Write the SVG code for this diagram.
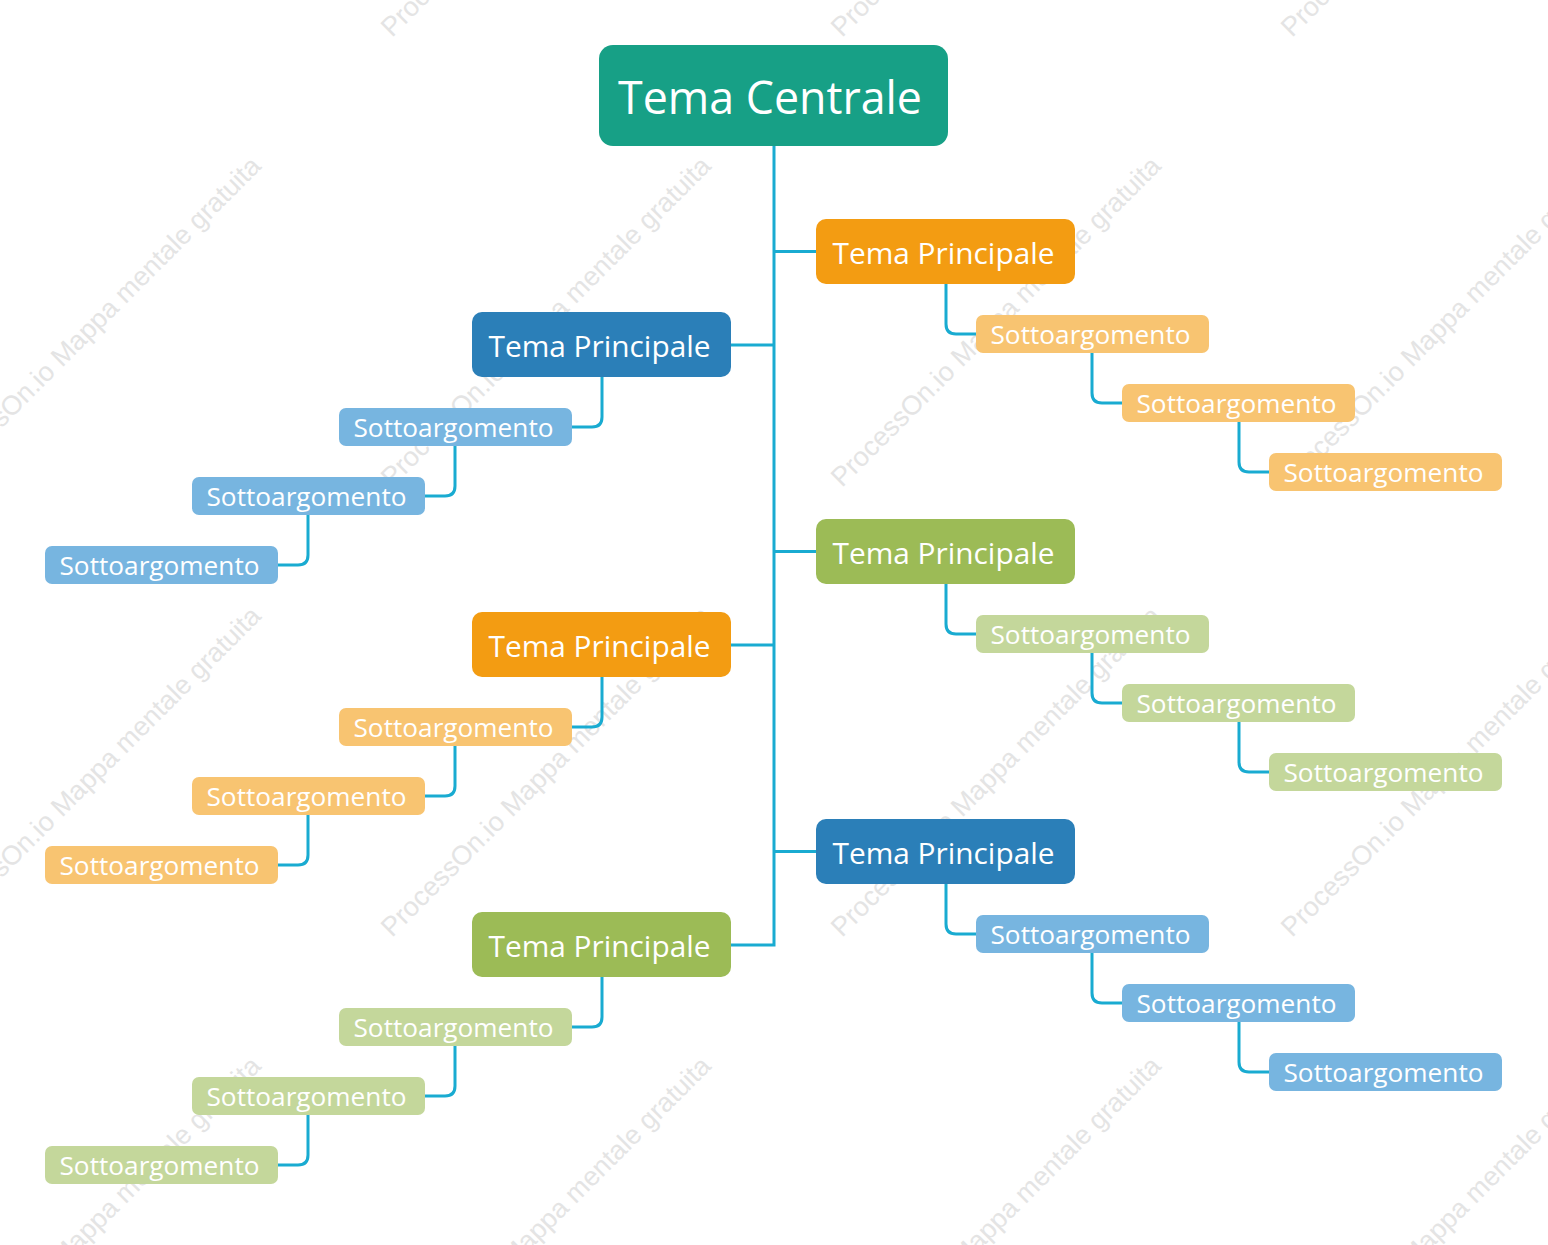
<svg xmlns="http://www.w3.org/2000/svg" width="1548" height="1245" viewBox="0 0 1548 1245">
<style>
.wm{font-family:"Liberation Sans",Arial,sans-serif;font-size:27px;fill:#e4e4e4}
.t{font-family:"Open Sans","Noto Sans",sans-serif;fill:#ffffff;text-anchor:middle}
.c{font-size:46px}
.m{font-size:30px}
.s{font-size:26px}
.ln{fill:none;stroke:#19abd1;stroke-width:3}
.central{fill:#17a086}
.or{fill:#f39c12}.bl{fill:#2b7fb8}.gr{fill:#9cbb56}
.lor{fill:#f8c471}.lbl{fill:#77b5e0}.lgr{fill:#c4d79b}
</style>
<rect width="1548" height="1245" fill="#ffffff"/>
<g id="watermark">
<text class="wm" x="-58" y="38" transform="rotate(-45 -58 38)">ProcessOn.io Mappa mentale gratuita</text>
<text class="wm" x="392" y="38" transform="rotate(-45 392 38)">ProcessOn.io Mappa mentale gratuita</text>
<text class="wm" x="842" y="38" transform="rotate(-45 842 38)">ProcessOn.io Mappa mentale gratuita</text>
<text class="wm" x="1292" y="38" transform="rotate(-45 1292 38)">ProcessOn.io Mappa mentale gratuita</text>
<text class="wm" x="-58" y="488" transform="rotate(-45 -58 488)">ProcessOn.io Mappa mentale gratuita</text>
<text class="wm" x="392" y="488" transform="rotate(-45 392 488)">ProcessOn.io Mappa mentale gratuita</text>
<text class="wm" x="842" y="488" transform="rotate(-45 842 488)">ProcessOn.io Mappa mentale gratuita</text>
<text class="wm" x="1292" y="488" transform="rotate(-45 1292 488)">ProcessOn.io Mappa mentale gratuita</text>
<text class="wm" x="-58" y="938" transform="rotate(-45 -58 938)">ProcessOn.io Mappa mentale gratuita</text>
<text class="wm" x="392" y="938" transform="rotate(-45 392 938)">ProcessOn.io Mappa mentale gratuita</text>
<text class="wm" x="842" y="938" transform="rotate(-45 842 938)">ProcessOn.io Mappa mentale gratuita</text>
<text class="wm" x="1292" y="938" transform="rotate(-45 1292 938)">ProcessOn.io Mappa mentale gratuita</text>
<text class="wm" x="-58" y="1388" transform="rotate(-45 -58 1388)">ProcessOn.io Mappa mentale gratuita</text>
<text class="wm" x="392" y="1388" transform="rotate(-45 392 1388)">ProcessOn.io Mappa mentale gratuita</text>
<text class="wm" x="842" y="1388" transform="rotate(-45 842 1388)">ProcessOn.io Mappa mentale gratuita</text>
<text class="wm" x="1292" y="1388" transform="rotate(-45 1292 1388)">ProcessOn.io Mappa mentale gratuita</text>
</g>
<g id="connectors" class="ln">
<path d="M774,146 V945 H731"/>
<path d="M774,251.5 H816"/>
<path d="M774,345 H731"/>
<path d="M774,551.5 H816"/>
<path d="M774,645 H731"/>
<path d="M774,851.5 H816"/>
<path d="M946,284 V324 Q946,334 956,334 H976"/>
<path d="M1092,353 V393 Q1092,403 1102,403 H1122"/>
<path d="M1239,422 V462 Q1239,472 1249,472 H1269"/>
<path d="M946,584 V624 Q946,634 956,634 H976"/>
<path d="M1092,653 V693 Q1092,703 1102,703 H1122"/>
<path d="M1239,722 V762 Q1239,772 1249,772 H1269"/>
<path d="M946,884 V924 Q946,934 956,934 H976"/>
<path d="M1092,953 V993 Q1092,1003 1102,1003 H1122"/>
<path d="M1239,1022 V1062 Q1239,1072 1249,1072 H1269"/>
<path d="M602,377 V417 Q602,427 592,427 H572"/>
<path d="M455,446 V486 Q455,496 445,496 H425"/>
<path d="M308,515 V555 Q308,565 298,565 H278"/>
<path d="M602,677 V717 Q602,727 592,727 H572"/>
<path d="M455,746 V786 Q455,796 445,796 H425"/>
<path d="M308,815 V855 Q308,865 298,865 H278"/>
<path d="M602,977 V1017 Q602,1027 592,1027 H572"/>
<path d="M455,1046 V1086 Q455,1096 445,1096 H425"/>
<path d="M308,1115 V1155 Q308,1165 298,1165 H278"/>
</g>
<g id="central">
<rect class="central" x="599" y="45" width="349" height="101" rx="14"/>
<text class="t c" x="770" y="114" textLength="304" lengthAdjust="spacingAndGlyphs">Tema Centrale</text>
</g>
<g id="tp-r1"><rect class="or" x="816" y="219" width="259" height="65" rx="10"/><text class="t m" x="943.5" y="264" textLength="222" lengthAdjust="spacingAndGlyphs">Tema Principale</text></g>
<g id="tp-r2"><rect class="gr" x="816" y="519" width="259" height="65" rx="10"/><text class="t m" x="943.5" y="564" textLength="222" lengthAdjust="spacingAndGlyphs">Tema Principale</text></g>
<g id="tp-r3"><rect class="bl" x="816" y="819" width="259" height="65" rx="10"/><text class="t m" x="943.5" y="864" textLength="222" lengthAdjust="spacingAndGlyphs">Tema Principale</text></g>
<g id="tp-l1"><rect class="bl" x="472" y="312" width="259" height="65" rx="10"/><text class="t m" x="599.5" y="357" textLength="222" lengthAdjust="spacingAndGlyphs">Tema Principale</text></g>
<g id="tp-l2"><rect class="or" x="472" y="612" width="259" height="65" rx="10"/><text class="t m" x="599.5" y="657" textLength="222" lengthAdjust="spacingAndGlyphs">Tema Principale</text></g>
<g id="tp-l3"><rect class="gr" x="472" y="912" width="259" height="65" rx="10"/><text class="t m" x="599.5" y="957" textLength="222" lengthAdjust="spacingAndGlyphs">Tema Principale</text></g>

<g id="s-r1-1"><rect class="lor" x="976" y="315" width="233" height="38" rx="7"/><text class="t s" x="1090.5" y="344" textLength="200" lengthAdjust="spacingAndGlyphs">Sottoargomento</text></g>
<g id="s-r1-2"><rect class="lor" x="1122" y="384" width="233" height="38" rx="7"/><text class="t s" x="1236.5" y="413" textLength="200" lengthAdjust="spacingAndGlyphs">Sottoargomento</text></g>
<g id="s-r1-3"><rect class="lor" x="1269" y="453" width="233" height="38" rx="7"/><text class="t s" x="1383.5" y="482" textLength="200" lengthAdjust="spacingAndGlyphs">Sottoargomento</text></g>

<g id="s-r2-1"><rect class="lgr" x="976" y="615" width="233" height="38" rx="7"/><text class="t s" x="1090.5" y="644" textLength="200" lengthAdjust="spacingAndGlyphs">Sottoargomento</text></g>
<g id="s-r2-2"><rect class="lgr" x="1122" y="684" width="233" height="38" rx="7"/><text class="t s" x="1236.5" y="713" textLength="200" lengthAdjust="spacingAndGlyphs">Sottoargomento</text></g>
<g id="s-r2-3"><rect class="lgr" x="1269" y="753" width="233" height="38" rx="7"/><text class="t s" x="1383.5" y="782" textLength="200" lengthAdjust="spacingAndGlyphs">Sottoargomento</text></g>

<g id="s-r3-1"><rect class="lbl" x="976" y="915" width="233" height="38" rx="7"/><text class="t s" x="1090.5" y="944" textLength="200" lengthAdjust="spacingAndGlyphs">Sottoargomento</text></g>
<g id="s-r3-2"><rect class="lbl" x="1122" y="984" width="233" height="38" rx="7"/><text class="t s" x="1236.5" y="1013" textLength="200" lengthAdjust="spacingAndGlyphs">Sottoargomento</text></g>
<g id="s-r3-3"><rect class="lbl" x="1269" y="1053" width="233" height="38" rx="7"/><text class="t s" x="1383.5" y="1082" textLength="200" lengthAdjust="spacingAndGlyphs">Sottoargomento</text></g>

<g id="s-l1-1"><rect class="lbl" x="339" y="408" width="233" height="38" rx="7"/><text class="t s" x="453.5" y="437" textLength="200" lengthAdjust="spacingAndGlyphs">Sottoargomento</text></g>
<g id="s-l1-2"><rect class="lbl" x="192" y="477" width="233" height="38" rx="7"/><text class="t s" x="306.5" y="506" textLength="200" lengthAdjust="spacingAndGlyphs">Sottoargomento</text></g>
<g id="s-l1-3"><rect class="lbl" x="45" y="546" width="233" height="38" rx="7"/><text class="t s" x="159.5" y="575" textLength="200" lengthAdjust="spacingAndGlyphs">Sottoargomento</text></g>

<g id="s-l2-1"><rect class="lor" x="339" y="708" width="233" height="38" rx="7"/><text class="t s" x="453.5" y="737" textLength="200" lengthAdjust="spacingAndGlyphs">Sottoargomento</text></g>
<g id="s-l2-2"><rect class="lor" x="192" y="777" width="233" height="38" rx="7"/><text class="t s" x="306.5" y="806" textLength="200" lengthAdjust="spacingAndGlyphs">Sottoargomento</text></g>
<g id="s-l2-3"><rect class="lor" x="45" y="846" width="233" height="38" rx="7"/><text class="t s" x="159.5" y="875" textLength="200" lengthAdjust="spacingAndGlyphs">Sottoargomento</text></g>

<g id="s-l3-1"><rect class="lgr" x="339" y="1008" width="233" height="38" rx="7"/><text class="t s" x="453.5" y="1037" textLength="200" lengthAdjust="spacingAndGlyphs">Sottoargomento</text></g>
<g id="s-l3-2"><rect class="lgr" x="192" y="1077" width="233" height="38" rx="7"/><text class="t s" x="306.5" y="1106" textLength="200" lengthAdjust="spacingAndGlyphs">Sottoargomento</text></g>
<g id="s-l3-3"><rect class="lgr" x="45" y="1146" width="233" height="38" rx="7"/><text class="t s" x="159.5" y="1175" textLength="200" lengthAdjust="spacingAndGlyphs">Sottoargomento</text></g>
</svg>
